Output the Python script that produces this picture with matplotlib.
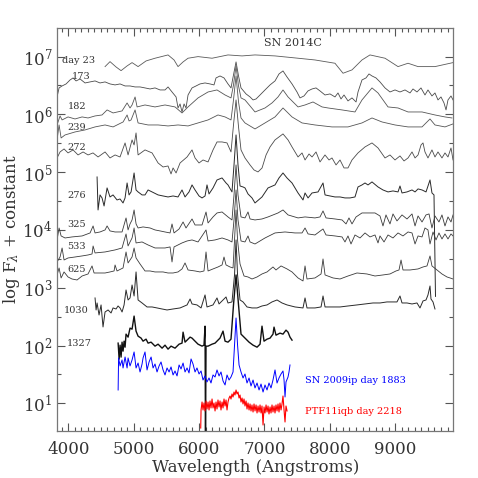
import numpy as np
import matplotlib
matplotlib.use('Agg')
import matplotlib.pyplot as plt
from matplotlib.ticker import FixedLocator, MultipleLocator, LogFormatterSciNotation

plt.rcParams['font.family'] = 'DejaVu Serif'
plt.rcParams['mathtext.fontset'] = 'dejavuserif'

# wavelengths in Angstrom, log10 of (scaled) F_lambda
wl_d23 = [4563, 4639, 4731, 4808, 4900, 4976, 5068, 5190, 5327, 5526, 5618, 5679, 5756, 5832,
          5985, 6199, 6443, 6658, 6856, 7162, 7514, 7773, 8079, 8202, 8339, 8492, 8614, 8844,
          9043, 9196, 9349, 9608, 9883]
lf_d23 = [6.827, 6.913, 6.821, 6.757, 6.839, 6.896, 6.827, 6.925, 6.972, 7.029, 6.942, 6.827,
          6.908, 6.972, 7.000, 6.972, 7.029, 7.012, 7.029, 7.012, 6.972, 6.942, 6.885, 6.712,
          6.770, 6.942, 7.029, 6.972, 6.827, 6.885, 6.827, 6.827, 6.896]

wl_173 = [3829, 3860, 3906, 3967, 4028, 4074, 4120, 4181, 4257, 4334, 4410, 4486, 4563, 4639,
          4716, 4792, 4869, 4945, 5022, 5098, 5174, 5251, 5327, 5404, 5480, 5526, 5587, 5649,
          5679, 5710, 5740, 5771, 5801, 5832, 5893, 5954, 6015, 6092, 6168, 6229, 6260, 6321,
          6382, 6443, 6489, 6527, 6566, 6604, 6642, 6719, 6780, 6826, 6872, 6933, 7009, 7086,
          7162, 7223, 7284, 7345, 7422, 7498, 7544, 7605, 7666, 7728, 7789, 7850, 7926, 8003,
          8079, 8125, 8171, 8217, 8278, 8339, 8401, 8431, 8492, 8553, 8599, 8645, 8706, 8767,
          8844, 8920, 8997, 9073, 9150, 9226, 9272, 9333, 9394, 9455, 9501, 9562, 9608, 9654,
          9700, 9746, 9777, 9807, 9853, 9884]
lf_173 = [6.302, 6.458, 6.492, 6.527, 6.596, 6.631, 6.579, 6.613, 6.544, 6.562, 6.579, 6.544,
          6.562, 6.527, 6.510, 6.527, 6.492, 6.492, 6.475, 6.475, 6.458, 6.440, 6.458, 6.423,
          6.423, 6.475, 6.388, 6.302, 6.111, 6.181, 6.042, 6.181, 6.111, 6.336, 6.458, 6.492,
          6.527, 6.544, 6.527, 6.510, 6.631, 6.665, 6.631, 6.527, 6.458, 6.683, 6.908, 6.665,
          6.458, 6.354, 6.302, 6.250, 6.267, 6.336, 6.423, 6.510, 6.579, 6.700, 6.752, 6.648,
          6.527, 6.388, 6.285, 6.319, 6.406, 6.440, 6.458, 6.406, 6.336, 6.354, 6.302, 6.371,
          6.267, 6.336, 6.233, 6.285, 6.215, 6.388, 6.596, 6.631, 6.700, 6.665, 6.631, 6.562,
          6.458, 6.388, 6.423, 6.388, 6.423, 6.371, 6.440, 6.388, 6.458, 6.336, 6.423, 6.319,
          6.371, 6.250, 6.302, 6.198, 6.077, 6.250, 6.319, 6.250]

wl_182 = [3829, 3875, 3906, 3997, 4104, 4212, 4303, 4410, 4517, 4594, 4686, 4823, 4900, 4945,
          4976, 5022, 5053, 5174, 5327, 5480, 5633, 5740, 5832, 5985, 6138, 6275, 6398, 6489,
          6527, 6566, 6604, 6642, 6703, 6780, 6856, 7009, 7116, 7208, 7284, 7361, 7514, 7621,
          7743, 7881, 7973, 8187, 8385, 8492, 8645, 8737, 8890, 9043, 9196, 9410, 9608, 9761,
          9868]
lf_182 = [5.817, 5.973, 5.904, 5.956, 5.921, 5.956, 5.938, 5.973, 5.990, 6.077, 6.025, 6.060,
          6.198, 6.111, 6.163, 6.302, 6.129, 6.163, 6.129, 6.163, 6.129, 6.025, 6.129, 6.285,
          6.388, 6.423, 6.336, 6.285, 6.510, 6.838, 6.492, 6.285, 6.250, 6.146, 6.042, 6.111,
          6.198, 6.302, 6.423, 6.302, 6.129, 6.163, 6.215, 6.129, 6.111, 6.077, 6.042, 6.250,
          6.458, 6.371, 6.129, 6.111, 6.042, 6.042, 5.990, 5.956, 5.938]

wl_239 = [3829, 3860, 3891, 3951, 4104, 4257, 4410, 4563, 4686, 4839, 4900, 4930, 4961, 5022,
          5068, 5221, 5374, 5526, 5679, 5832, 5985, 6138, 6290, 6398, 6489, 6527, 6566, 6604,
          6642, 6703, 6856, 7009, 7162, 7284, 7422, 7575, 7773, 8033, 8278, 8492, 8645, 8798,
          8997, 9196, 9410, 9532, 9608, 9761, 9884]
lf_239 = [5.558, 5.817, 5.592, 5.644, 5.696, 5.731, 5.783, 5.817, 5.783, 5.869, 5.990, 5.886,
          5.904, 6.077, 5.852, 5.817, 5.817, 5.800, 5.817, 5.800, 5.852, 5.904, 5.990, 5.956,
          5.904, 6.250, 6.665, 6.215, 5.938, 5.852, 5.748, 5.852, 5.956, 6.111, 5.956, 5.852,
          5.817, 5.783, 5.783, 5.852, 5.938, 5.869, 5.817, 5.783, 5.783, 5.921, 5.817, 5.783,
          5.835]

wl_272 = [3829, 3875, 3936, 3997, 4074, 4150, 4227, 4303, 4379, 4456, 4563, 4639, 4716, 4792,
          4869, 4915, 4976, 5007, 5037, 5068, 5174, 5282, 5374, 5450, 5526, 5572, 5603, 5649,
          5710, 5817, 5893, 5939, 6000, 6061, 6138, 6214, 6275, 6352, 6428, 6489, 6527, 6566,
          6604, 6642, 6703, 6780, 6841, 6902, 6964, 7025, 7086, 7162, 7223, 7284, 7361, 7422,
          7514, 7575, 7621, 7682, 7728, 7789, 7850, 7926, 7988, 8033, 8095, 8156, 8217, 8278,
          8339, 8431, 8538, 8645, 8737, 8844, 8920, 8997, 9073, 9135, 9196, 9257, 9303, 9349,
          9395, 9425, 9455, 9501, 9562, 9608, 9654, 9715, 9761, 9807, 9853, 9884]
lf_272 = [5.246, 5.350, 5.402, 5.333, 5.385, 5.298, 5.350, 5.298, 5.333, 5.263, 5.350, 5.246,
          5.298, 5.263, 5.506, 5.298, 5.558, 5.471, 5.679, 5.298, 5.385, 5.333, 5.159, 5.090,
          5.107, 4.969, 5.073, 4.986, 5.159, 5.263, 5.385, 5.246, 5.159, 5.211, 5.177, 5.385,
          5.523, 5.523, 5.506, 5.350, 5.817, 6.250, 5.783, 5.385, 5.246, 5.125, 5.038, 5.004,
          5.073, 5.298, 5.437, 5.558, 5.610, 5.662, 5.558, 5.437, 5.263, 5.333, 5.211, 5.315,
          5.263, 5.350, 5.177, 5.298, 5.211, 5.246, 5.125, 5.211, 5.073, 5.073, 5.211, 5.333,
          5.437, 5.506, 5.419, 5.246, 5.298, 5.211, 5.281, 5.194, 5.246, 5.350, 5.246, 5.298,
          5.471, 5.506, 5.350, 5.246, 5.385, 5.263, 5.350, 5.246, 5.333, 5.263, 5.419, 5.211]

wl_276 = [4441, 4456, 4486, 4517, 4548, 4594, 4639, 4685, 4746, 4792, 4838, 4869, 4900, 4930,
          4961, 5007, 5037, 5068, 5129, 5174, 5221, 5282, 5374, 5450, 5526, 5603, 5679, 5740,
          5786, 5847, 5893, 5939, 6000, 6046, 6092, 6122, 6153, 6214, 6275, 6352, 6413, 6443,
          6504, 6535, 6566, 6596, 6627, 6673, 6703, 6749, 6810, 6856, 6963, 7055, 7162, 7223,
          7284, 7345, 7422, 7514, 7590, 7621, 7667, 7728, 7820, 7896, 7927, 8003, 8079, 8156,
          8232, 8309, 8385, 8431, 8492, 8538, 8584, 8645, 8737, 8813, 8890, 8966, 9043, 9073,
          9104, 9180, 9257, 9303, 9349, 9410, 9471, 9532, 9562, 9593, 9616]
lf_276 = [4.917, 4.346, 4.606, 4.554, 4.415, 4.727, 4.571, 4.606, 4.519, 4.536, 4.467, 4.554,
          4.813, 4.606, 4.658, 4.986, 4.692, 4.658, 4.606, 4.606, 4.692, 4.658, 4.606, 4.588,
          4.571, 4.588, 4.571, 4.692, 4.571, 4.658, 4.779, 4.692, 4.588, 4.554, 4.588, 4.779,
          4.623, 4.727, 4.865, 4.900, 4.813, 4.779, 4.658, 5.125, 5.644, 5.125, 4.761, 4.744,
          4.727, 4.623, 4.554, 4.467, 4.571, 4.727, 4.779, 4.900, 4.986, 4.900, 4.813, 4.640,
          4.519, 4.640, 4.554, 4.640, 4.658, 4.813, 4.606, 4.588, 4.571, 4.571, 4.554, 4.554,
          4.571, 4.744, 4.779, 4.813, 4.779, 4.831, 4.744, 4.692, 4.658, 4.675, 4.658, 4.761,
          4.640, 4.658, 4.692, 4.658, 4.710, 4.692, 4.658, 4.865, 4.640, 4.606, 2.850]

wl_325 = [3829, 3860, 3891, 3951, 4058, 4212, 4334, 4380, 4410, 4486, 4563, 4594, 4639, 4716,
          4823, 4884, 4915, 4945, 4976, 5007, 5037, 5068, 5144, 5251, 5327, 5404, 5480, 5557,
          5587, 5618, 5695, 5756, 5801, 5863, 5893, 5939, 6046, 6107, 6138, 6214, 6275, 6352,
          6443, 6504, 6535, 6566, 6596, 6642, 6703, 6749, 6780, 6856, 6963, 7055, 7208, 7284,
          7361, 7514, 7621, 7773, 7850, 7896, 7942, 8079, 8187, 8248, 8293, 8339, 8401, 8492,
          8584, 8691, 8767, 8813, 8859, 8920, 8966, 9027, 9104, 9180, 9257, 9303, 9349, 9410,
          9471, 9517, 9562, 9608, 9669, 9715, 9761, 9807, 9853, 9884]
lf_325 = [3.827, 4.034, 3.896, 3.861, 3.879, 3.896, 3.948, 4.069, 3.948, 3.965, 4.000, 4.069,
          3.983, 3.965, 3.965, 4.208, 4.000, 4.104, 4.173, 4.346, 4.104, 4.034, 4.052, 4.034,
          4.000, 3.983, 3.965, 3.948, 4.104, 3.948, 4.017, 4.138, 4.034, 4.138, 4.190, 4.086,
          4.086, 4.311, 4.121, 4.225, 4.294, 4.311, 4.225, 4.173, 4.606, 5.125, 4.606, 4.225,
          4.208, 4.311, 4.190, 4.173, 4.190, 4.225, 4.294, 4.346, 4.260, 4.208, 4.225, 4.208,
          4.225, 4.329, 4.208, 4.190, 4.173, 4.104, 4.208, 4.104, 4.225, 4.294, 4.294, 4.294,
          4.242, 4.069, 4.260, 4.104, 4.277, 4.156, 4.260, 4.190, 4.277, 4.069, 4.242, 4.138,
          4.260, 4.277, 4.034, 4.242, 4.138, 4.260, 4.069, 4.225, 4.138, 4.260]

wl_533 = [3829, 3875, 3906, 3936, 3997, 4104, 4212, 4303, 4364, 4380, 4410, 4563, 4716, 4823,
          4884, 4915, 4945, 4976, 5007, 5037, 5129, 5221, 5327, 5480, 5557, 5587, 5618, 5740,
          5817, 5893, 5985, 6107, 6138, 6245, 6352, 6443, 6504, 6535, 6566, 6596, 6642, 6703,
          6749, 6780, 6856, 7009, 7162, 7315, 7468, 7575, 7621, 7667, 7773, 7896, 7942, 8079,
          8187, 8232, 8278, 8324, 8385, 8462, 8538, 8614, 8691, 8737, 8767, 8829, 8890, 8966,
          9043, 9119, 9196, 9257, 9303, 9349, 9410, 9455, 9501, 9532, 9578, 9624, 9669, 9715,
          9761, 9807, 9853, 9884]
lf_533 = [3.446, 3.532, 3.688, 3.480, 3.515, 3.532, 3.550, 3.567, 3.584, 3.723, 3.602, 3.619,
          3.654, 3.688, 3.931, 3.723, 3.792, 3.861, 4.034, 3.775, 3.792, 3.740, 3.688, 3.688,
          3.706, 3.446, 3.706, 3.775, 3.809, 3.827, 3.792, 4.000, 3.809, 3.827, 3.861, 3.827,
          3.792, 4.173, 4.692, 4.173, 3.809, 3.792, 3.896, 3.792, 3.757, 3.861, 3.948, 3.965,
          3.948, 3.948, 4.034, 3.931, 3.913, 4.017, 3.913, 3.896, 3.879, 3.792, 3.896, 3.757,
          3.913, 3.861, 3.948, 3.879, 3.913, 3.775, 3.896, 3.792, 3.913, 3.861, 3.948, 3.896,
          3.965, 3.948, 3.757, 3.896, 3.879, 4.034, 4.000, 3.757, 3.965, 3.827, 3.948, 3.844,
          3.931, 3.844, 3.931, 3.896]

wl_625 = [3829, 3860, 3891, 3936, 3997, 4058, 4135, 4212, 4303, 4364, 4395, 4486, 4563, 4639,
          4701, 4716, 4746, 4838, 4884, 4915, 4945, 4976, 5007, 5037, 5098, 5174, 5251, 5327,
          5450, 5526, 5603, 5679, 5740, 5786, 5832, 5939, 6015, 6076, 6107, 6138, 6214, 6290,
          6352, 6382, 6413, 6474, 6520, 6543, 6566, 6589, 6627, 6688, 6749, 6810, 6887, 6963,
          7040, 7131, 7177, 7254, 7346, 7422, 7514, 7590, 7621, 7651, 7773, 7866, 7896, 7927,
          8049, 8156, 8278, 8415, 8568, 8691, 8813, 8920, 9012, 9058, 9089, 9119, 9226, 9349,
          9425, 9486, 9532, 9562, 9639, 9715, 9792, 9838, 9884]
lf_625 = [3.221, 3.342, 3.169, 3.273, 3.186, 3.151, 3.134, 3.203, 3.238, 3.377, 3.255, 3.255,
          3.255, 3.273, 3.290, 3.394, 3.290, 3.342, 3.619, 3.429, 3.480, 3.532, 3.688, 3.515,
          3.411, 3.290, 3.290, 3.273, 3.273, 3.255, 3.255, 3.273, 3.325, 3.429, 3.307, 3.290,
          3.273, 3.290, 3.619, 3.290, 3.325, 3.359, 3.394, 3.532, 3.394, 3.359, 3.342, 3.827,
          4.346, 3.827, 3.411, 3.203, 3.186, 3.151, 3.186, 3.238, 3.273, 3.359, 3.307, 3.377,
          3.325, 3.273, 3.169, 3.117, 3.377, 3.151, 3.169, 3.238, 3.498, 3.221, 3.169, 3.151,
          3.203, 3.255, 3.238, 3.203, 3.221, 3.238, 3.290, 3.307, 3.480, 3.307, 3.307, 3.325,
          3.359, 3.377, 3.550, 3.377, 3.307, 3.238, 3.186, 3.169, 3.151]

wl_1030 = [4410, 4426, 4441, 4471, 4502, 4532, 4563, 4609, 4655, 4685, 4731, 4762, 4792, 4823,
           4854, 4884, 4915, 4945, 4976, 5007, 5037, 5068, 5129, 5205, 5282, 5358, 5435, 5511,
           5603, 5710, 5817, 5863, 5893, 5969, 6031, 6092, 6122, 6214, 6275, 6306, 6367, 6413,
           6443, 6504, 6543, 6566, 6589, 6627, 6673, 6734, 6810, 6887, 6963, 7040, 7116, 7193,
           7269, 7346, 7468, 7590, 7621, 7651, 7773, 7866, 7896, 7927, 8049, 8156, 8278, 8415,
           8538, 8660, 8767, 8874, 8966, 9027, 9073, 9104, 9180, 9257, 9333, 9379, 9425, 9471,
           9501, 9532, 9547, 9578, 9608]
lf_1030 = [2.823, 2.615, 2.736, 2.528, 2.702, 2.321, 2.580, 2.615, 2.563, 2.650, 2.632, 2.684,
           2.650, 2.580, 2.702, 2.961, 2.788, 2.823, 3.047, 2.857, 3.273, 2.788, 2.736, 2.667,
           2.667, 2.650, 2.632, 2.615, 2.632, 2.650, 2.702, 2.805, 2.719, 2.702, 2.650, 2.875,
           2.667, 2.702, 2.823, 2.719, 2.788, 2.840, 2.736, 2.754, 3.221, 3.827, 3.221, 2.788,
           2.754, 2.667, 2.650, 2.650, 2.684, 2.702, 2.754, 2.788, 2.736, 2.702, 2.667, 2.650,
           2.823, 2.650, 2.650, 2.667, 2.857, 2.667, 2.667, 2.667, 2.684, 2.702, 2.719, 2.736,
           2.736, 2.754, 2.754, 2.754, 2.857, 2.736, 2.736, 2.719, 2.736, 2.650, 2.771, 2.788,
           2.875, 3.030, 2.805, 2.754, 2.632]

wl_1327 = [4763, 4778, 4793, 4808, 4823, 4838, 4854, 4869, 4884, 4915, 4945, 4976, 5007, 5037,
           5068, 5114, 5144, 5190, 5221, 5267, 5327, 5374, 5435, 5480, 5526, 5572, 5633, 5695,
           5740, 5756, 5786, 5817, 5863, 5893, 5939, 5985, 6046, 6076, 6092, 6099, 6107, 6138,
           6199, 6245, 6290, 6321, 6367, 6398, 6443, 6489, 6527, 6566, 6604, 6642, 6703, 6765,
           6826, 6887, 6933, 6963, 6994, 7040, 7086, 7131, 7147, 7177, 7238, 7284, 7330, 7361,
           7391, 7422]
lf_1327 = [2.041, 1.764, 2.006, 1.799, 2.058, 1.902, 2.075, 1.971, 2.197, 2.145, 2.301, 2.283,
           2.509, 2.249, 2.162, 2.128, 2.075, 2.110, 2.041, 2.058, 1.989, 2.023, 1.954, 2.006,
           1.937, 1.989, 1.954, 2.023, 2.041, 2.231, 2.058, 2.093, 2.145, 2.128, 2.075, 2.023,
           1.989, 2.006, 2.335, 0.300, 1.989, 1.989, 2.023, 2.041, 2.093, 2.128, 2.249, 2.075,
           2.058, 2.110, 2.702, 3.221, 2.702, 2.197, 2.128, 2.058, 2.006, 1.971, 2.023, 2.335,
           2.075, 2.110, 2.128, 2.197, 2.318, 2.179, 2.214, 2.197, 2.266, 2.231, 2.145, 2.093]

wl_09ip = [4763, 4770, 4793, 4823, 4838, 4869, 4900, 4915, 4945, 4976, 5007, 5037, 5068, 5098,
           5129, 5144, 5174, 5205, 5236, 5267, 5297, 5327, 5358, 5389, 5419, 5450, 5480, 5511,
           5542, 5572, 5603, 5633, 5664, 5695, 5725, 5756, 5786, 5817, 5847, 5878, 5908, 5939,
           5969, 6000, 6031, 6061, 6092, 6122, 6153, 6183, 6214, 6245, 6275, 6306, 6336, 6367,
           6398, 6428, 6459, 6489, 6520, 6543, 6566, 6589, 6612, 6642, 6673, 6703, 6734, 6765,
           6795, 6826, 6856, 6887, 6918, 6948, 6979, 7009, 7040, 7070, 7101, 7131, 7162, 7193,
           7223, 7254, 7284, 7300, 7315, 7330, 7361, 7376, 7391]
lf_09ip = [1.230, 1.784, 1.646, 1.750, 1.611, 1.801, 1.611, 1.784, 1.646, 1.750, 1.888, 1.611,
           1.697, 1.542, 1.680, 1.784, 1.888, 1.577, 1.715, 1.801, 1.611, 1.680, 1.542, 1.646,
           1.715, 1.577, 1.490, 1.611, 1.542, 1.629, 1.490, 1.559, 1.473, 1.663, 1.594, 1.697,
           1.542, 1.611, 1.525, 1.767, 1.680, 1.542, 1.611, 1.507, 1.559, 1.403, 1.473, 1.369,
           1.438, 1.351, 1.490, 1.455, 1.577, 1.473, 1.542, 1.386, 1.317, 1.490, 1.403, 1.455,
           1.542, 2.009, 2.476, 2.009, 1.663, 1.542, 1.438, 1.507, 1.351, 1.438, 1.299, 1.403,
           1.265, 1.351, 1.230, 1.334, 1.195, 1.317, 1.230, 1.351, 1.265, 1.403, 1.577, 1.351,
           1.438, 1.507, 1.559, 1.403, 1.109, 1.369, 1.455, 1.542, 1.663]

wl_11iqb = [6026, 6031, 6046, 6061, 6076, 6092, 6107, 6122, 6138, 6153, 6168, 6183, 6199, 6214,
            6229, 6245, 6260, 6275, 6290, 6306, 6321, 6336, 6352, 6367, 6382, 6398, 6413, 6428,
            6443, 6459, 6474, 6489, 6504, 6520, 6535, 6550, 6566, 6581, 6596, 6612, 6627, 6642,
            6658, 6673, 6688, 6703, 6719, 6734, 6749, 6765, 6780, 6795, 6810, 6826, 6841, 6856,
            6872, 6887, 6902, 6918, 6933, 6948, 6963, 6979, 6994, 7009, 7025, 7040, 7055, 7070,
            7086, 7101, 7116, 7131, 7147, 7162, 7177, 7193, 7208, 7223, 7238, 7254, 7269, 7284,
            7300, 7315, 7330, 7346]
lf_11iqb = [0.572, 0.884, 1.022, 0.884, 1.005, 0.867, 1.040, 0.901, 1.022, 0.884, 1.040, 0.919,
            1.074, 0.919, 1.005, 0.867, 1.022, 0.901, 1.057, 0.936, 1.040, 0.884, 1.022, 0.919,
            1.074, 0.953, 1.057, 0.884, 1.022, 1.091, 1.126, 1.074, 1.161, 1.109, 1.195, 1.143,
            1.230, 1.161, 1.195, 1.091, 1.143, 1.022, 1.091, 0.988, 1.074, 0.953, 1.040, 0.901,
            1.005, 0.884, 0.988, 0.867, 0.971, 0.849, 0.988, 0.867, 0.971, 0.832, 0.953, 0.849,
            0.971, 0.832, 0.953, 0.624, 0.936, 0.832, 0.971, 0.849, 0.953, 0.815, 0.936, 0.832,
            0.971, 0.849, 0.953, 0.832, 0.971, 0.867, 0.988, 0.849, 1.005, 0.884, 0.988, 1.126,
            0.884, 0.676, 0.953, 0.867]

# epoch labels: text, wavelength, log flux
epoch_txt = ['day 23', '173', '182', '239', '272', '276', '325', '533', '625', '1030', '1327']
epoch_wl = [3910, 4050, 3990, 3990, 3990, 3980, 3980, 3980, 3980, 3940, 3980]
epoch_lf = [6.925, 6.650, 6.130, 5.780, 5.420, 4.590, 4.100, 3.720, 3.320, 2.610, 2.040]

gray_sets = [(wl_d23, lf_d23), (wl_173, lf_173), (wl_182, lf_182), (wl_239, lf_239),
             (wl_272, lf_272), (wl_276, lf_276), (wl_325, lf_325), (wl_533, lf_533),
             (wl_625, lf_625), (wl_1030, lf_1030), (wl_1327, lf_1327)]
line_col = ['#5a5a5a', '#4a4a4a', '#555555', '#555555', '#4a4a4a', '#2a2a2a', '#3a3a3a',
            '#3a3a3a', '#3a3a3a', '#2a2a2a', '#111111']
line_w = [0.6, 0.6, 0.6, 0.6, 0.6, 0.7, 0.6, 0.6, 0.6, 0.7, 1.0]

fig = plt.figure(figsize=(4.78, 4.78), dpi=100)
ax = fig.add_axes([0.1199, 0.0983, 0.8284, 0.8425])

for (w, f), c, lw in zip(gray_sets, line_col, line_w):
    ax.plot(w, 10 ** np.array(f), color=c, lw=lw)
ax.plot(wl_09ip, 10 ** np.array(lf_09ip), color='blue', lw=0.7)
ax.plot(wl_11iqb, 10 ** np.array(lf_11iqb), color='red', lw=0.8)

for t, w, f in zip(epoch_txt, epoch_wl, epoch_lf):
    ax.text(w, 10 ** f, t, fontsize=7, color='#333333', va='center', ha='left')

ax.text(7440, 10 ** 7.24, 'SN 2014C', fontsize=8, color='#333333', ha='center', va='center')
ax.text(7613, 10 ** 1.40, 'SN 2009ip day 1883', fontsize=7, color='blue', ha='left', va='center')
ax.text(7613, 10 ** 0.85, 'PTF11iqb day 2218', fontsize=7, color='red', ha='left', va='center')

ax.set_yscale('log')
ax.set_xlim(3833, 9888)
ax.set_ylim(10 ** 0.52, 10 ** 7.49)

ax.xaxis.set_major_locator(MultipleLocator(1000))
ax.xaxis.set_minor_locator(MultipleLocator(100))
ax.yaxis.set_major_locator(FixedLocator([10.0 ** k for k in range(1, 8)]))
ax.yaxis.set_major_formatter(LogFormatterSciNotation())
ax.yaxis.set_minor_locator(FixedLocator([10.0 ** (k + 0.5) for k in range(0, 8)]))
ax.yaxis.set_minor_formatter(plt.NullFormatter())

ax.tick_params(which='both', direction='in', top=True, right=True, colors='#555555',
               labelcolor='#333333', labelsize=12)
ax.tick_params(which='major', length=5.5, width=0.8)
ax.tick_params(which='minor', length=3, width=0.8)
ax.tick_params(axis='x', which='major', pad=7)
for s in ax.spines.values():
    s.set_color('#777777')
    s.set_linewidth(0.9)

ax.set_xlabel('Wavelength (Angstroms)', fontsize=12, color='#333333', labelpad=1)
ax.set_ylabel(r'log F$_\lambda$ + constant', fontsize=12, color='#333333', labelpad=0)

fig.savefig('out.png', dpi=100)
